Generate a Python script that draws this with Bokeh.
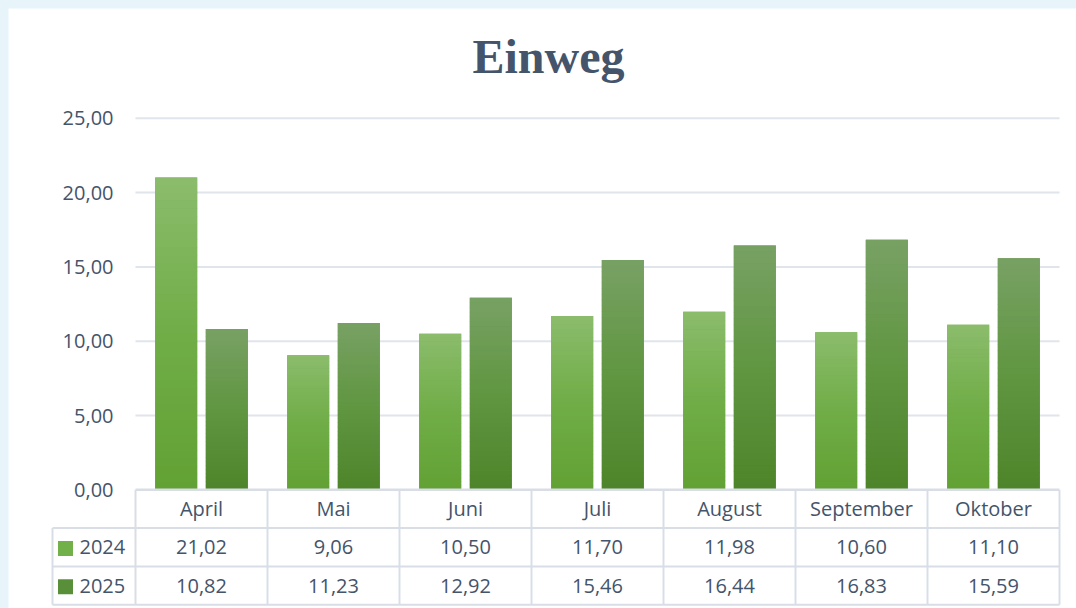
import numpy as np
from bokeh.plotting import figure
from bokeh.models import ColumnDataSource, Range1d, GlobalInlineStyleSheet
from bokeh.core.properties import value
from bokeh.embed import file_html
from bokeh.resources import INLINE

# ---------------- data ----------------
title_text = "Einweg"
months = ["April", "Mai", "Juni", "Juli", "August", "September", "Oktober"]
series_names = ["2024", "2025"]
values_2024 = [21.02, 9.06, 10.50, 11.70, 11.98, 10.60, 11.10]
values_2025 = [10.82, 11.23, 12.92, 15.46, 16.44, 16.83, 15.59]
y_ticks = [0, 5, 10, 15, 20, 25]


def fmt(v):
    return f"{v:.2f}".replace(".", ",")


# ---------------- layout / style ----------------
W, H = 1068, 600
PX_CAT = 132.0        # pixels per category
PX_UNIT = 14.86       # pixels per value unit
X0 = 193.0            # px of first category centre (figure coords)
Y0 = 481.3            # px of zero line from top (figure coords)
TEXT = "#44546a"
GRID = "#e0e4eb"
TBL = "#d9dee6"
FONT = value("Open Sans")

bar_w = 42.0 / PX_CAT
offs = 25.3 / PX_CAT
row_u = 38.3 / PX_UNIT
leg_left = -0.5 - 83.0 / PX_CAT

stops = {
    "2024": [(0.0, "#8bbc6c"), (0.5, "#70ad47"), (1.0, "#62a134")],
    "2025": [(0.0, "#78a164"), (0.5, "#609641"), (1.0, "#4e8429")],
}
legend_col = {"2024": "#72b04a", "2025": "#5a8f3a"}


def hex2rgb(h):
    return np.array([int(h[i:i + 2], 16) for i in (1, 3, 5)], dtype=float)


def grad(st, t):
    for (t0, c0), (t1, c1) in zip(st[:-1], st[1:]):
        if t <= t1:
            f = (t - t0) / (t1 - t0)
            c = hex2rgb(c0) * (1 - f) + hex2rgb(c1) * f
            return "#%02x%02x%02x" % tuple(int(round(v)) for v in c)
    return st[-1][1]


p = figure(width=W, height=H,
           x_range=Range1d(-X0 / PX_CAT, (W - X0) / PX_CAT),
           y_range=Range1d(-(H - Y0) / PX_UNIT, Y0 / PX_UNIT),
           x_axis_type=None, y_axis_type=None,
           output_backend="svg", toolbar_location=None, min_border=0)
p.grid.visible = False
p.outline_line_color = None
p.background_fill_color = "white"
p.border_fill_color = "white"
p.stylesheets = [GlobalInlineStyleSheet(
    css="html,body{background:#e7f5fb;overflow:hidden;} body{margin:8px 0 0 8px;}")]

n = len(months)
xs = np.arange(n, dtype=float)

# gridlines (non-zero ticks)
gt = [t for t in y_ticks if t != 0]
p.segment(x0=[-0.5] * len(gt), x1=[n - 0.5] * len(gt), y0=gt, y1=gt,
          line_color=GRID, line_width=2)

# y tick labels
p.text(x=[-0.5 - 22.0 / PX_CAT] * len(y_ticks), y=y_ticks,
       text=[fmt(t) for t in y_ticks], text_align="right", text_baseline="middle",
       text_font=FONT, text_font_size="20px", text_color=TEXT)

# bars with vertical gradient
N = 40
series = [("2024", values_2024, -offs), ("2025", values_2025, offs)]
for name, vals, off in series:
    p.vbar(x=xs + off, top=vals, width=bar_w, fill_color=stops[name][1][1],
           line_color=None)
    l, r, b, t, c = [], [], [], [], []
    for i, v in enumerate(vals):
        for j in range(N):
            l.append(i + off - bar_w / 2)
            r.append(i + off + bar_w / 2)
            b.append(v * j / N)
            t.append(min(v, v * (j + 1) / N + 0.03))
            c.append(grad(stops[name], 1 - (j + 0.5) / N))
    p.quad(left=l, right=r, bottom=b, top=t, fill_color=c, line_color=None)

# ---------------- data table ----------------
rows_y = [0, -row_u, -2 * row_u, -3 * row_u]
p.segment(x0=[-0.5], x1=[n - 0.5], y0=[0], y1=[0], line_color=TBL, line_width=2.5)
p.segment(x0=[leg_left] * 3, x1=[n - 0.5] * 3, y0=rows_y[1:], y1=rows_y[1:],
          line_color=TBL, line_width=2)
vx = list(np.arange(n + 1) - 0.5)
p.segment(x0=vx, x1=vx, y0=[0] * len(vx), y1=[rows_y[3]] * len(vx),
          line_color=TBL, line_width=2)
p.segment(x0=[leg_left], x1=[leg_left], y0=[rows_y[1]], y1=[rows_y[3]],
          line_color=TBL, line_width=2)

p.text(x=xs, y=[-0.5 * row_u] * n, text=months, text_align="center",
       text_baseline="middle", text_font=FONT, text_font_size="20px",
       text_color=TEXT)

for k, (name, vals, _) in enumerate(series):
    yc = -(k + 1.5) * row_u
    p.text(x=xs, y=[yc] * n, text=[fmt(v) for v in vals], text_align="center",
           text_baseline="middle", text_font=FONT, text_font_size="20px",
           text_color=TEXT)
    p.rect(x=[leg_left + 13.0 / PX_CAT], y=[yc - 0.08], width=15, height=15,
           width_units="screen", height_units="screen",
           fill_color=legend_col[name], line_color=None)
    p.text(x=[leg_left + 27.0 / PX_CAT], y=[yc], text=[name], text_align="left",
           text_baseline="middle", text_font=FONT, text_font_size="20px",
           text_color=TEXT)

# title
p.text(x=[(548.0 - 8 - X0) / PX_CAT], y=[(Y0 - 48.0) / PX_UNIT], text=[title_text],
       text_align="center", text_baseline="alphabetic",
       text_font=value("Liberation Serif"), text_font_style="bold",
       text_font_size="48px", text_color="#44546a")

open("out.html", "w").write(file_html(p, INLINE))
